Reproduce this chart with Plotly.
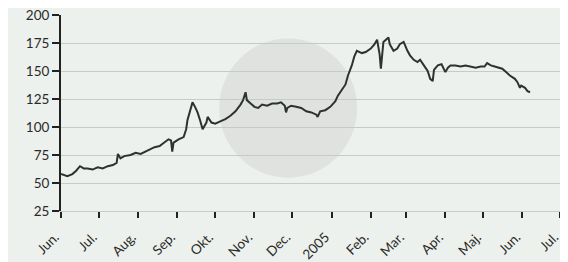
import plotly.graph_objects as go

dates = ["2004-06-01","2004-06-03","2004-06-06","2004-06-10","2004-06-13","2004-06-16","2004-06-19","2004-06-22","2004-06-26","2004-06-30",
"2004-07-04","2004-07-08","2004-07-12","2004-07-15","2004-07-16","2004-07-18","2004-07-21","2004-07-26","2004-07-30",
"2004-08-03","2004-08-07","2004-08-10","2004-08-14","2004-08-18","2004-08-22","2004-08-25","2004-08-27","2004-08-28","2004-08-29",
"2004-09-02","2004-09-06","2004-09-08","2004-09-09","2004-09-11","2004-09-13","2004-09-15","2004-09-17","2004-09-19","2004-09-21","2004-09-24","2004-09-25","2004-09-28",
"2004-10-01","2004-10-05","2004-10-09","2004-10-13","2004-10-17","2004-10-21","2004-10-23","2004-10-25","2004-10-26","2004-10-29",
"2004-11-01","2004-11-04","2004-11-07","2004-11-11","2004-11-15","2004-11-19","2004-11-22","2004-11-25","2004-11-26","2004-11-27","2004-11-30",
"2004-12-04","2004-12-08","2004-12-12","2004-12-16","2004-12-20","2004-12-21","2004-12-23","2004-12-27","2004-12-31",
"2005-01-04","2005-01-06","2005-01-09","2005-01-12","2005-01-14","2005-01-17","2005-01-19","2005-01-21","2005-01-25","2005-01-28",
"2005-02-01","2005-02-04","2005-02-06","2005-02-08","2005-02-09","2005-02-10","2005-02-11","2005-02-13","2005-02-15","2005-02-16","2005-02-19","2005-02-22","2005-02-24","2005-02-27","2005-02-28",
"2005-03-02","2005-03-04","2005-03-07","2005-03-10","2005-03-12","2005-03-15","2005-03-18","2005-03-20","2005-03-22","2005-03-23","2005-03-26","2005-03-29",
"2005-04-01","2005-04-03","2005-04-05","2005-04-09","2005-04-13","2005-04-17","2005-04-21","2005-04-25","2005-04-29",
"2005-05-02","2005-05-04","2005-05-07","2005-05-10","2005-05-13","2005-05-16","2005-05-19","2005-05-22","2005-05-26","2005-05-28","2005-05-30","2005-05-31",
"2005-06-03","2005-06-05","2005-06-07"]

values = [58,57,56,58,61,65,63,63,62,64,
63,65,66,68,76,72,74,75,77,
76,78,80,82,83,86,89,88,78,86,
89,91,98,106,114,122,118,113,106,98,104,109,104,
103,105,107,110,114,120,124,131,124,121,
118,117,120,119,121,121,122,119,113,117,119,
118,117,114,113,111,109,114,115,118,
123,128,133,138,146,155,163,168,166,167,
170,174,178,165,152,168,176,178,180,174,168,170,174,176,173,
168,164,160,158,160,155,150,143,141,151,155,156,
149,153,155,155,154,155,154,153,154,
154,157,155,154,153,152,149,146,143,140,135,137,
135,132,131]

tick_dates = ["2004-06-01","2004-07-01","2004-08-01","2004-09-01","2004-10-01","2004-11-01","2004-12-01",
              "2005-01-01","2005-02-01","2005-03-01","2005-04-01","2005-05-01","2005-06-01","2005-07-01"]
tick_labels = ["Jun.","Jul.","Aug.","Sep.","Okt.","Nov.","Dec.","2005","Feb.","Mar.","Apr.","Maj.","Jun.","Jul."]
y_ticks = [25,50,75,100,125,150,175,200]

fig = go.Figure()
fig.add_trace(go.Scatter(x=dates, y=values, mode="lines",
                         line=dict(color="#2e322f", width=2), hoverinfo="skip"))

bg = "#edf1ed"
fig.update_layout(
    width=560, height=254,
    margin=dict(l=53, r=0, t=7, b=51, autoexpand=False),
    paper_bgcolor=bg, plot_bgcolor=bg,
    showlegend=False,
    font=dict(family="Lato, DejaVu Sans, sans-serif", color="#333", size=12),
    shapes=[dict(type="circle", xref="paper", yref="paper", layer="below",
                 x0=0.448-0.136, x1=0.448+0.136, y0=0.525-0.355, y1=0.525+0.355,
                 fillcolor="rgba(170,170,170,0.2)", line=dict(width=0))],
    xaxis=dict(
        type="date", range=["2004-06-01", "2005-07-07"], automargin=False,
        tickmode="array", tickvals=tick_dates, ticktext=tick_labels, tickangle=-45,
        ticks="outside", ticklen=6, tickwidth=2, tickcolor="#222",
        ticklabelstandoff=6, ticklabelshift=-6, ticklabeloverflow="allow",
        showgrid=False, showline=True, linecolor="#c5cbc6", linewidth=1,
        tickfont=dict(size=13.5, color="#2a2a2a"), zeroline=False,
    ),
    yaxis=dict(
        range=[25, 200], tickvals=y_ticks, automargin=False,
        ticks="outside", ticklen=7, tickwidth=2, tickcolor="#222",
        ticklabeloverflow="allow",
        showline=True, linecolor="#222", linewidth=2,
        showgrid=True, gridcolor="#c5cbc6", gridwidth=1,
        tickfont=dict(size=13.5, color="#2a2a2a"), zeroline=False,
    ),
)

fig.write_html("out.html")
